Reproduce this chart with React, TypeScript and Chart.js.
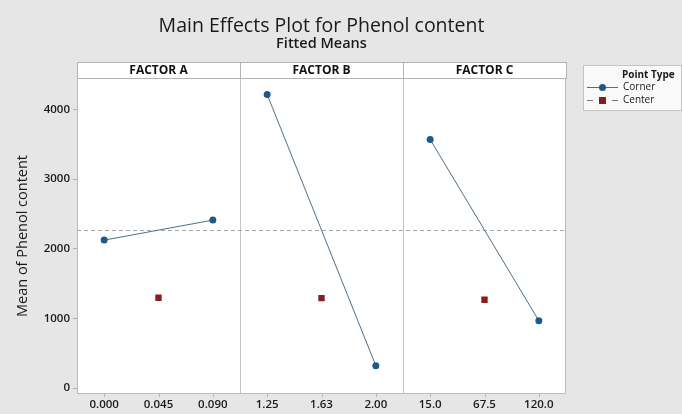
import React, { useEffect, useRef } from 'react';
import { Chart, registerables } from 'chart.js';

Chart.register(...registerables);

const categories = ['0.000', '0.045', '0.090', '1.25', '1.63', '2.00', '15.0', '67.5', '120.0'];
const factorNames = ['FACTOR A', 'FACTOR B', 'FACTOR C'];
const cornerLevelsA = ['0.000', '0.090'];
const cornerLevelsB = ['1.25', '2.00'];
const cornerLevelsC = ['15.0', '120.0'];
const cornerA = [2123, 2410];
const cornerB = [4213, 320];
const cornerC = [3568, 966];
const centerLevels = ['0.045', '1.63', '67.5'];
const centerValues = [1296, 1291, 1267];
const grandMean = 2267;
const yTicks = [0, 1000, 2000, 3000, 4000];

const FONT = '"Open Sans", "Noto Sans", sans-serif';
const BLUE = '#1c5a8c';
const LINE = '#4f7088';
const RED = '#8b1c1e';
const BG = '#e6e6e6';

const pts = (levels: string[], vals: number[]) => levels.map((l, i) => ({ x: l, y: vals[i] }));

const decorPlugin = {
  id: 'decor',
  beforeDraw(chart: any) {
    const { ctx, chartArea: a } = chart;
    ctx.save();
    ctx.fillStyle = BG;
    ctx.fillRect(0, 0, chart.width, chart.height);
    ctx.fillStyle = '#ffffff';
    ctx.fillRect(a.left, a.top, a.right - a.left, a.bottom - a.top);
    ctx.restore();
  },
  beforeDatasetsDraw(chart: any) {
    const { ctx, chartArea: a, scales } = chart;
    const y = scales.y.getPixelForValue(grandMean);
    ctx.save();
    ctx.strokeStyle = '#a8a8a8';
    ctx.lineWidth = 1;
    ctx.setLineDash([4, 3]);
    ctx.beginPath();
    ctx.moveTo(a.left, Math.round(y) + 0.5);
    ctx.lineTo(a.right, Math.round(y) + 0.5);
    ctx.stroke();
    ctx.setLineDash([]);
    ctx.strokeStyle = '#bdbdbd';
    ctx.strokeRect(a.left + 0.5, a.top + 0.5, a.right - a.left - 1, a.bottom - a.top - 1);
    // small x tick marks below the axis
    ctx.strokeStyle = '#b8b8b8';
    ctx.beginPath();
    for (let i = 0; i < categories.length; i++) {
      const x = Math.round(scales.x.getPixelForValue(i)) + 0.5;
      ctx.moveTo(x, a.bottom);
      ctx.lineTo(x, a.bottom + 3);
    }
    ctx.stroke();
    ctx.restore();
  },
  afterDraw(chart: any) {
    const { ctx, chartArea: a, scales } = chart;
    const cx = (a.left + a.right) / 2;
    ctx.save();
    ctx.fillStyle = '#1a1a1a';
    ctx.textAlign = 'center';
    ctx.textBaseline = 'middle';
    ctx.font = `19.5px ${FONT}`;
    ctx.fillText('Main Effects Plot for Phenol content', cx, 26);
    ctx.font = `600 14.5px ${FONT}`;
    ctx.fillText('Fitted Means', cx, 44);

    // panel headers
    const top = 62;
    for (let i = 0; i < factorNames.length; i++) {
      const l = scales.x.getPixelForValue(i * 3 - 0.5);
      const r = scales.x.getPixelForValue(i * 3 + 2.5);
      ctx.fillStyle = '#ffffff';
      ctx.fillRect(l, top, r - l, a.top - top);
      ctx.strokeStyle = '#b4b4b4';
      ctx.lineWidth = 1;
      ctx.strokeRect(Math.round(l) + 0.5, top + 0.5, Math.round(r - l), a.top - top);
      ctx.fillStyle = '#111111';
      ctx.font = `bold 12px ${FONT}`;
      ctx.fillText(factorNames[i], (l + r) / 2, (top + a.top) / 2 + 0.5);
    }

    // legend
    const lx = 583, ly = 65, lw = 98, lh = 45;
    ctx.fillStyle = '#f9f9f9';
    ctx.fillRect(lx, ly, lw, lh);
    ctx.strokeStyle = '#c4c4c4';
    ctx.strokeRect(lx + 0.5, ly + 0.5, lw, lh);
    ctx.fillStyle = '#1a1a1a';
    ctx.textAlign = 'left';
    ctx.font = `bold 10px ${FONT}`;
    ctx.fillText('Point Type', 622, 75);
    ctx.font = `10px ${FONT}`;
    ctx.fillText('Corner', 623, 87.5);
    ctx.fillText('Center', 623, 100.5);
    ctx.strokeStyle = LINE;
    ctx.beginPath();
    ctx.moveTo(587, 87.5);
    ctx.lineTo(618, 87.5);
    ctx.stroke();
    ctx.fillStyle = BLUE;
    ctx.beginPath();
    ctx.arc(602.5, 87.5, 3.5, 0, Math.PI * 2);
    ctx.fill();
    ctx.strokeStyle = '#7a7a7a';
    ctx.beginPath();
    ctx.moveTo(587, 100.5);
    ctx.lineTo(593, 100.5);
    ctx.moveTo(612, 100.5);
    ctx.lineTo(618, 100.5);
    ctx.stroke();
    ctx.fillStyle = RED;
    ctx.fillRect(599, 97, 7, 7);
    ctx.restore();
  },
};

export default function App() {
  const ref = useRef<HTMLCanvasElement>(null);
  useEffect(() => {
    if (!ref.current) return;
    const lineDs = (levels: string[], vals: number[]) => ({
      type: 'line',
      data: pts(levels, vals),
      borderColor: LINE,
      borderWidth: 1,
      backgroundColor: BLUE,
      pointBackgroundColor: BLUE,
      pointBorderColor: BLUE,
      pointRadius: 3.5,
      pointBorderWidth: 0,
      showLine: true,
    });
    const chart = new Chart(ref.current, {
      type: 'line',
      data: {
        labels: categories,
        datasets: [
          lineDs(cornerLevelsA, cornerA),
          lineDs(cornerLevelsB, cornerB),
          lineDs(cornerLevelsC, cornerC),
          {
            type: 'line',
            data: pts(centerLevels, centerValues),
            showLine: false,
            pointStyle: 'rect',
            pointRadius: 4.5,
            pointBackgroundColor: RED,
            pointBorderColor: RED,
            pointBorderWidth: 0,
          } as any,
        ] as any,
      },
      options: {
        responsive: false,
        animation: false,
        layout: { padding: { top: 78, right: 116, bottom: 0, left: 0 } },
        plugins: {
          legend: { display: false },
          tooltip: { enabled: false },
          title: { display: false },
        },
        scales: {
          x: {
            type: 'category',
            offset: true,
            afterFit: (s: any) => { s.height = 20; },
            grid: {
              offset: true,
              drawTicks: false,
              color: (c: any) => (c.index === 3 || c.index === 6 ? '#c4c4c4' : 'rgba(0,0,0,0)'),
            },
            border: { display: false },
            ticks: {
              color: '#1a1a1a',
              font: { family: FONT, size: 11.5, weight: '600' },
              padding: 4,
              maxRotation: 0,
              autoSkip: false,
            },
          },
          y: {
            type: 'linear',
            min: -86,
            max: 4450,
            afterFit: (s: any) => { s.width = 77; },
            afterBuildTicks: (s: any) => { s.ticks = yTicks.map((v) => ({ value: v })); },
            grid: {
              drawOnChartArea: false,
              drawTicks: true,
              tickLength: 4,
              color: '#b0b0b0',
            },
            border: { display: false },
            ticks: {
              color: '#1a1a1a',
              font: { family: FONT, size: 11.5, weight: '600' },
              padding: 3,
              callback: (v: any) => String(v),
            },
            title: {
              display: true,
              text: 'Mean of Phenol content',
              color: '#1a1a1a',
              font: { family: FONT, size: 14.5 },
              padding: { top: 14, bottom: 0 },
            },
          },
        },
      },
      plugins: [decorPlugin],
    } as any);
    return () => chart.destroy();
  }, []);
  return (
    <div style={{ position: 'fixed', left: 0, top: 0, width: 682, height: 414, background: BG }}>
      <canvas ref={ref} width={682} height={414} style={{ display: 'block' }} />
    </div>
  );
}
